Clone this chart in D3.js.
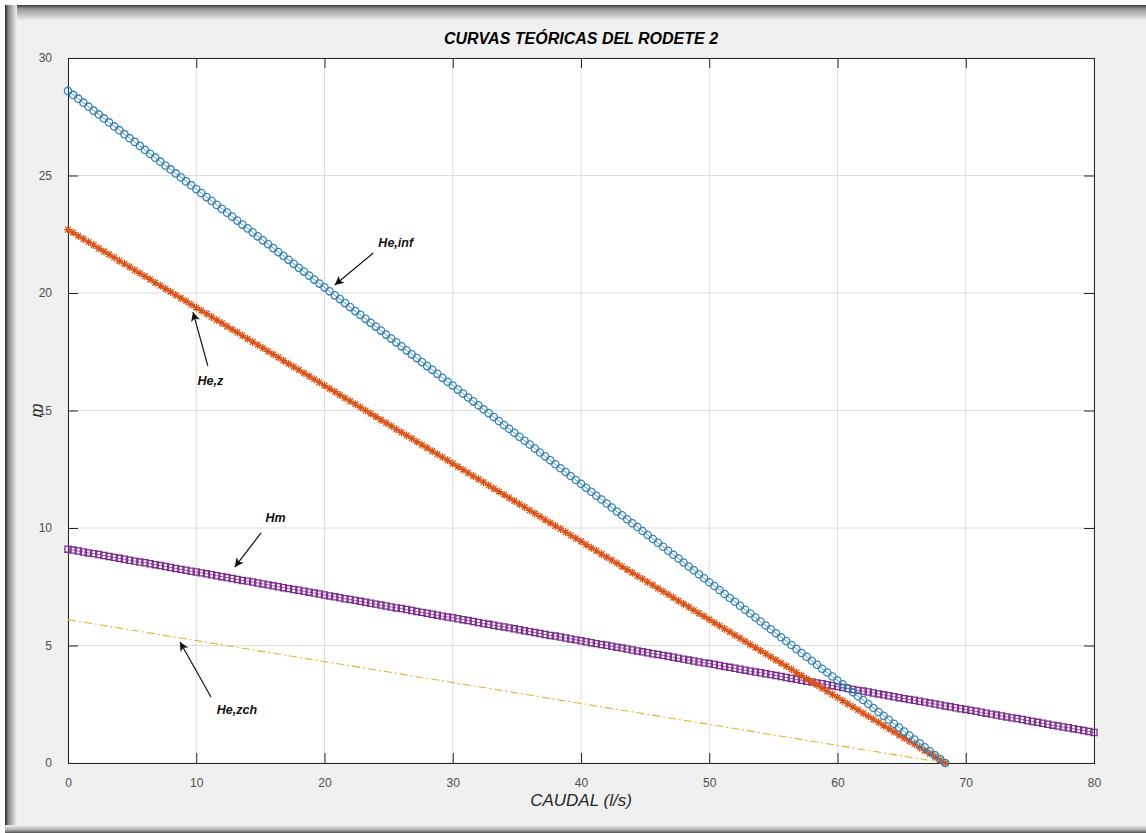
<!DOCTYPE html>
<html>
<head>
<meta charset="utf-8">
<script src="https://cdn.jsdelivr.net/npm/d3@7"></script>
<style>
  body { margin: 0; background: #fff; }
  svg { display: block; font-family: "Liberation Sans", Arial, sans-serif; }
  .tick text { fill: #4d4d4d; font-size: 12px; }
  .anot { font-size: 12.5px; font-style: italic; font-weight: bold; fill: #111; }
</style>
</head>
<body>
<div id="grafica"></div>
<script>
// ---- datos ----
const caudal = d3.range(0, 68.41, 0.4)   // l/s, muestreo de He,inf y He,z
const caudalHm = d3.range(0, 80.01, 0.4) // l/s, muestreo de Hm

const heInf = [
  28.60, 28.43, 28.27, 28.10, 27.93, 27.76, 27.60, 27.43, 27.26, 27.09,
  26.93, 26.76, 26.59, 26.43, 26.26, 26.09, 25.92, 25.76, 25.59, 25.42,
  25.26, 25.09, 24.92, 24.75, 24.59, 24.42, 24.25, 24.08, 23.92, 23.75,
  23.58, 23.42, 23.25, 23.08, 22.91, 22.75, 22.58, 22.41, 22.24, 22.08,
  21.91, 21.74, 21.58, 21.41, 21.24, 21.07, 20.91, 20.74, 20.57, 20.40,
  20.24, 20.07, 19.90, 19.74, 19.57, 19.40, 19.23, 19.07, 18.90, 18.73,
  18.57, 18.40, 18.23, 18.06, 17.90, 17.73, 17.56, 17.39, 17.23, 17.06,
  16.89, 16.73, 16.56, 16.39, 16.22, 16.06, 15.89, 15.72, 15.55, 15.39,
  15.22, 15.05, 14.89, 14.72, 14.55, 14.38, 14.22, 14.05, 13.88, 13.71,
  13.55, 13.38, 13.21, 13.05, 12.88, 12.71, 12.54, 12.38, 12.21, 12.04,
  11.88, 11.71, 11.54, 11.37, 11.21, 11.04, 10.87, 10.70, 10.54, 10.37,
  10.20, 10.04, 9.87, 9.70, 9.53, 9.37, 9.20, 9.03, 8.86, 8.70,
  8.53, 8.36, 8.20, 8.03, 7.86, 7.69, 7.53, 7.36, 7.19, 7.02,
  6.86, 6.69, 6.52, 6.36, 6.19, 6.02, 5.85, 5.69, 5.52, 5.35,
  5.19, 5.02, 4.85, 4.68, 4.52, 4.35, 4.18, 4.01, 3.85, 3.68,
  3.51, 3.35, 3.18, 3.01, 2.84, 2.68, 2.51, 2.34, 2.17, 2.01,
  1.84, 1.67, 1.51, 1.34, 1.17, 1.00, 0.84, 0.67, 0.50, 0.33,
  0.17, 0.00
]

const heZ = [
  22.70, 22.57, 22.43, 22.30, 22.17, 22.04, 21.90, 21.77, 21.64, 21.51,
  21.37, 21.24, 21.11, 20.97, 20.84, 20.71, 20.58, 20.44, 20.31, 20.18,
  20.05, 19.91, 19.78, 19.65, 19.51, 19.38, 19.25, 19.12, 18.98, 18.85,
  18.72, 18.58, 18.45, 18.32, 18.19, 18.05, 17.92, 17.79, 17.66, 17.52,
  17.39, 17.26, 17.12, 16.99, 16.86, 16.73, 16.59, 16.46, 16.33, 16.20,
  16.06, 15.93, 15.80, 15.66, 15.53, 15.40, 15.27, 15.13, 15.00, 14.87,
  14.74, 14.60, 14.47, 14.34, 14.20, 14.07, 13.94, 13.81, 13.67, 13.54,
  13.41, 13.27, 13.14, 13.01, 12.88, 12.74, 12.61, 12.48, 12.35, 12.21,
  12.08, 11.95, 11.81, 11.68, 11.55, 11.42, 11.28, 11.15, 11.02, 10.89,
  10.75, 10.62, 10.49, 10.35, 10.22, 10.09, 9.96, 9.82, 9.69, 9.56,
  9.43, 9.29, 9.16, 9.03, 8.89, 8.76, 8.63, 8.50, 8.36, 8.23,
  8.10, 7.96, 7.83, 7.70, 7.57, 7.43, 7.30, 7.17, 7.04, 6.90,
  6.77, 6.64, 6.50, 6.37, 6.24, 6.11, 5.97, 5.84, 5.71, 5.58,
  5.44, 5.31, 5.18, 5.04, 4.91, 4.78, 4.65, 4.51, 4.38, 4.25,
  4.12, 3.98, 3.85, 3.72, 3.58, 3.45, 3.32, 3.19, 3.05, 2.92,
  2.79, 2.65, 2.52, 2.39, 2.26, 2.12, 1.99, 1.86, 1.73, 1.59,
  1.46, 1.33, 1.19, 1.06, 0.93, 0.80, 0.66, 0.53, 0.40, 0.27,
  0.13, 0.00
]

const hm = [
  9.10, 9.06, 9.02, 8.98, 8.94, 8.91, 8.87, 8.83, 8.79, 8.75,
  8.71, 8.67, 8.63, 8.59, 8.55, 8.52, 8.48, 8.44, 8.40, 8.36,
  8.32, 8.28, 8.24, 8.20, 8.16, 8.13, 8.09, 8.05, 8.01, 7.97,
  7.93, 7.89, 7.85, 7.81, 7.77, 7.74, 7.70, 7.66, 7.62, 7.58,
  7.54, 7.50, 7.46, 7.42, 7.38, 7.35, 7.31, 7.27, 7.23, 7.19,
  7.15, 7.11, 7.07, 7.03, 6.99, 6.96, 6.92, 6.88, 6.84, 6.80,
  6.76, 6.72, 6.68, 6.64, 6.60, 6.57, 6.53, 6.49, 6.45, 6.41,
  6.37, 6.33, 6.29, 6.25, 6.21, 6.18, 6.14, 6.10, 6.06, 6.02,
  5.98, 5.94, 5.90, 5.86, 5.82, 5.79, 5.75, 5.71, 5.67, 5.63,
  5.59, 5.55, 5.51, 5.47, 5.43, 5.40, 5.36, 5.32, 5.28, 5.24,
  5.20, 5.16, 5.12, 5.08, 5.04, 5.01, 4.97, 4.93, 4.89, 4.85,
  4.81, 4.77, 4.73, 4.69, 4.65, 4.62, 4.58, 4.54, 4.50, 4.46,
  4.42, 4.38, 4.34, 4.30, 4.26, 4.23, 4.19, 4.15, 4.11, 4.07,
  4.03, 3.99, 3.95, 3.91, 3.87, 3.84, 3.80, 3.76, 3.72, 3.68,
  3.64, 3.60, 3.56, 3.52, 3.48, 3.45, 3.41, 3.37, 3.33, 3.29,
  3.25, 3.21, 3.17, 3.13, 3.09, 3.06, 3.02, 2.98, 2.94, 2.90,
  2.86, 2.82, 2.78, 2.74, 2.70, 2.67, 2.63, 2.59, 2.55, 2.51,
  2.47, 2.43, 2.39, 2.35, 2.31, 2.28, 2.24, 2.20, 2.16, 2.12,
  2.08, 2.04, 2.00, 1.96, 1.92, 1.89, 1.85, 1.81, 1.77, 1.73,
  1.69, 1.65, 1.61, 1.57, 1.53, 1.50, 1.46, 1.42, 1.38, 1.34,
  1.30
]

const caudalZch = [0, 68.4]
const heZch = [6.1, 0]

const ticksX = [0, 10, 20, 30, 40, 50, 60, 70, 80]
const ticksY = [0, 5, 10, 15, 20, 25, 30]

// anotaciones: [texto, cabeza Q, cabeza H, cola Q, cola H, texto Q, texto H]
const notas = [
  ["He,inf", 20.8, 20.34, 23.8, 21.7, 24.2, 21.95],
  ["He,z", 9.75, 19.19, 10.9, 16.9, 10.1, 16.1],
  ["Hm", 13.0, 8.34, 15.05, 9.79, 15.4, 10.25],
  ["He,zch", 8.73, 5.15, 11.15, 2.81, 11.6, 2.1]
]

// ---- figura ----
const anchoTotal = 1146
const altoTotal = 833
const margins = { top: 58, right: 52, bottom: 70, left: 68 }
const ancho = anchoTotal - margins.left - margins.right
const alto = altoTotal - margins.top - margins.bottom

const svg = d3.select("#grafica")
  .append("svg")
  .attr("width", anchoTotal)
  .attr("height", altoTotal)

const defs = svg.append("defs")
const gTop = defs.append("linearGradient").attr("id", "sTop").attr("x1", 0).attr("y1", 0).attr("x2", 0).attr("y2", 1)
gTop.append("stop").attr("offset", 0).attr("stop-color", "#3a3a3a")
gTop.append("stop").attr("offset", 0.25).attr("stop-color", "#9a9a9a")
gTop.append("stop").attr("offset", 1).attr("stop-color", "#f0f0f0")
const gLeft = defs.append("linearGradient").attr("id", "sLeft").attr("x1", 0).attr("y1", 0).attr("x2", 1).attr("y2", 0)
gLeft.append("stop").attr("offset", 0).attr("stop-color", "#2a2a2a")
gLeft.append("stop").attr("offset", 0.3).attr("stop-color", "#8a8a8a")
gLeft.append("stop").attr("offset", 1).attr("stop-color", "#f0f0f0")
const gBot = defs.append("linearGradient").attr("id", "sBot").attr("x1", 0).attr("y1", 0).attr("x2", 0).attr("y2", 1)
gBot.append("stop").attr("offset", 0).attr("stop-color", "#f0f0f0")
gBot.append("stop").attr("offset", 0.6).attr("stop-color", "#b0b0b0")
gBot.append("stop").attr("offset", 1).attr("stop-color", "#505050")
defs.append("marker")
  .attr("id", "flecha")
  .attr("viewBox", "0 0 10 10")
  .attr("refX", 10).attr("refY", 5)
  .attr("markerWidth", 12).attr("markerHeight", 9)
  .attr("markerUnits", "userSpaceOnUse")
  .attr("orient", "auto")
  .append("path").attr("d", "M0,0 L10,5 L0,10 L2.5,5 Z").attr("fill", "#111")

// marco de ventana
svg.append("rect").attr("x", 5).attr("y", 5).attr("width", anchoTotal - 5).attr("height", altoTotal - 5).attr("fill", "#f0f0f0")
svg.append("rect").attr("x", 5).attr("y", 5).attr("width", anchoTotal - 5).attr("height", 16).attr("fill", "url(#sTop)")
svg.append("rect").attr("x", 5).attr("y", 5).attr("width", 12).attr("height", altoTotal - 5).attr("fill", "url(#sLeft)")
svg.append("rect").attr("x", 5).attr("y", altoTotal - 8).attr("width", anchoTotal - 5).attr("height", 8).attr("fill", "url(#sBot)")

const g = svg.append("g").attr("transform", `translate(${margins.left}, ${margins.top})`)
g.append("rect").attr("width", ancho).attr("height", alto).attr("fill", "white")

const x = d3.scaleLinear().domain([0, 80]).range([0, ancho])
const y = d3.scaleLinear().domain([0, 30]).range([alto, 0])

// rejilla
g.append("g").selectAll("line").data(ticksX).join("line")
  .attr("x1", d => x(d)).attr("x2", d => x(d)).attr("y1", 0).attr("y2", alto)
  .attr("stroke", "#dcdcdc").attr("stroke-width", 1)
g.append("g").selectAll("line").data(ticksY).join("line")
  .attr("y1", d => y(d)).attr("y2", d => y(d)).attr("x1", 0).attr("x2", ancho)
  .attr("stroke", "#dcdcdc").attr("stroke-width", 1)

// ejes (ticks hacia dentro, estilo MATLAB)
const tl = 10
g.append("g").attr("transform", `translate(0, ${alto})`)
  .call(d3.axisBottom(x).tickValues(ticksX).tickSize(-tl).tickPadding(tl + 5))
g.append("g")
  .call(d3.axisTop(x).tickValues(ticksX).tickSize(-tl).tickFormat(""))
g.append("g")
  .call(d3.axisLeft(y).tickValues(ticksY).tickSize(-tl).tickPadding(tl + 6))
g.append("g").attr("transform", `translate(${ancho}, 0)`)
  .call(d3.axisRight(y).tickValues(ticksY).tickSize(-tl).tickFormat(""))
g.selectAll(".domain").attr("stroke", "#262626")
g.selectAll(".tick line").attr("stroke", "#262626")

// series
const linea = d3.line().x(d => x(d[0])).y(d => y(d[1]))
const ptsInf = caudal.map((q, i) => [q, heInf[i]])
const ptsZ = caudal.map((q, i) => [q, heZ[i]])
const ptsHm = caudalHm.map((q, i) => [q, hm[i]])
const ptsZch = caudalZch.map((q, i) => [q, heZch[i]])

g.append("path").datum(ptsZch).attr("d", linea)
  .attr("fill", "none").attr("stroke", "#E8B030").attr("stroke-width", 1.1)
  .attr("stroke-dasharray", "8,3,2,3")

const series = [
  { pts: ptsHm, color: "#7E2F8E", sym: d3.symbol(d3.symbolSquare, 38), sw: 1.3 },
  { pts: ptsZ, color: "#D95319", sym: null, sw: 1.3 },
  { pts: ptsInf, color: "#3583b5", sym: d3.symbol(d3.symbolCircle, 42), sw: 1.3 }
]
const asterisco = "M0,-4V4M-4,0H4M-2.9,-2.9L2.9,2.9M-2.9,2.9L2.9,-2.9"
series.forEach(s => {
  g.append("path").datum(s.pts).attr("d", linea)
    .attr("fill", "none").attr("stroke", s.color).attr("stroke-width", 0.8)
  g.append("g").selectAll("path").data(s.pts).join("path")
    .attr("transform", d => `translate(${x(d[0])}, ${y(d[1])})`)
    .attr("d", s.sym ? s.sym() : asterisco)
    .attr("fill", "none").attr("stroke", s.color).attr("stroke-width", s.sw)
})

// anotaciones
notas.forEach(n => {
  g.append("line")
    .attr("x1", x(n[3])).attr("y1", y(n[4]))
    .attr("x2", x(n[1])).attr("y2", y(n[2]))
    .attr("stroke", "#111").attr("stroke-width", 1.2)
    .attr("marker-end", "url(#flecha)")
  g.append("text").attr("class", "anot")
    .attr("x", x(n[5])).attr("y", y(n[6]))
    .text(n[0])
})

// titulos
svg.append("text")
  .attr("x", margins.left + ancho / 2).attr("y", 44)
  .attr("text-anchor", "middle")
  .style("font-size", "16px").style("font-weight", "bold").style("font-style", "italic")
  .text("CURVAS TEÓRICAS DEL RODETE 2")
svg.append("text")
  .attr("x", margins.left + ancho / 2).attr("y", 806)
  .attr("text-anchor", "middle")
  .style("font-size", "17px").style("font-style", "italic").attr("fill", "#262626")
  .text("CAUDAL (l/s)")
svg.append("text")
  .attr("transform", `translate(42, ${margins.top + alto / 2}) rotate(-90)`)
  .attr("text-anchor", "middle")
  .style("font-size", "17px").style("font-style", "italic").attr("fill", "#262626")
  .text("m")
</script>
</body>
</html>
